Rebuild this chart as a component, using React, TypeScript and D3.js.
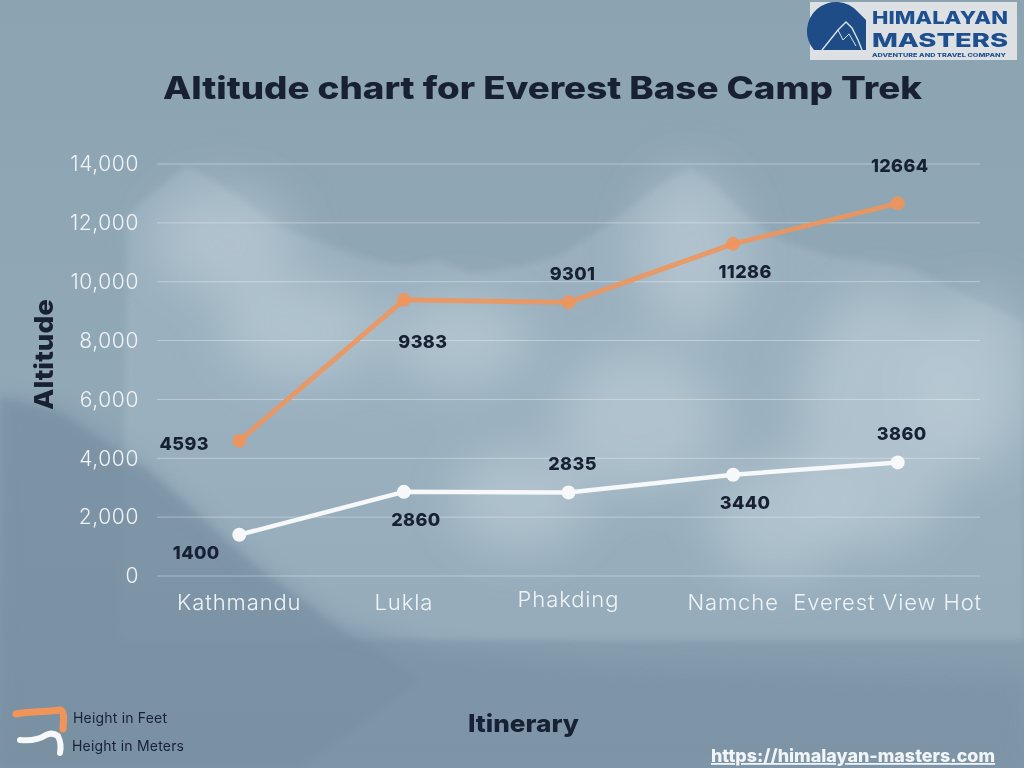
import React, { useEffect, useRef } from 'react';
import * as d3 from 'd3';

// Itinerary stops and altitudes
const stops = ['Kathmandu', 'Lukla', 'Phakding', 'Namche', 'Everest View Hotel'];
const heightFeet = [4593, 9383, 9301, 11286, 12664];
const heightMeters = [1400, 2860, 2835, 3440, 3860];
const yTicks = [0, 2000, 4000, 6000, 8000, 10000, 12000, 14000];

// where each value label sits relative to its point
const feetLabelSide = ['left', 'belowFar', 'above', 'below', 'aboveFar'];
const meterLabelSide = ['belowLeft', 'below', 'above', 'below', 'above'];

const W = 1024;
const H = 768;
const ORANGE = '#f0945a';
const WHITE = '#f6f8f9';
const INK = '#182034';
const FONT = 'Inter, "Open Sans", sans-serif';

const App: React.FC = () => {
  const svgRef = useRef<SVGSVGElement>(null);

  useEffect(() => {
    document.body.style.margin = '0';
    if (!svgRef.current) return;
    const svg = d3.select(svgRef.current);
    svg.selectAll('*').remove();

    const defs = svg.append('defs');
    const bg = defs.append('linearGradient').attr('id', 'bg').attr('x1', 0).attr('y1', 0).attr('x2', 0).attr('y2', 1);
    bg.append('stop').attr('offset', '0%').attr('stop-color', '#8ca3b2');
    bg.append('stop').attr('offset', '50%').attr('stop-color', '#91a8b7');
    bg.append('stop').attr('offset', '100%').attr('stop-color', '#8098a9');
    const blur = (id: string, s: number) =>
      defs.append('filter').attr('id', id).attr('x', '-20%').attr('y', '-20%').attr('width', '140%').attr('height', '140%')
        .append('feGaussianBlur').attr('stdDeviation', s);
    blur('blurSoft', 3);
    blur('blurMid', 10);
    blur('blurBig', 24);

    // background photo approximation
    svg.append('rect').attr('width', W).attr('height', H).attr('fill', 'url(#bg)');
    const scenery = svg.append('g');
    scenery.append('path')
      .attr('d', 'M120,640 L128,215 L150,196 L172,178 L186,166 L200,172 L222,186 L250,205 L282,228 L320,242 L360,258 L405,266 L440,261 L470,274 L520,266 L560,256 L600,230 L640,200 L668,180 L690,168 L712,182 L740,210 L775,238 L830,256 L870,262 L910,268 L960,292 L1024,322 L1024,640 Z')
      .attr('fill', '#a3b8c6').attr('opacity', 0.55).attr('filter', 'url(#blurSoft)');
    const snow = [
      [225, 240, 70, 55], [300, 330, 80, 50], [460, 340, 70, 45], [690, 250, 55, 80],
      [640, 420, 80, 70], [880, 420, 80, 130], [980, 380, 50, 90], [520, 500, 70, 50], [780, 520, 70, 60],
    ];
    scenery.append('g').attr('filter', 'url(#blurBig)').selectAll('ellipse').data(snow).join('ellipse')
      .attr('cx', d => d[0]).attr('cy', d => d[1]).attr('rx', d => d[2]).attr('ry', d => d[3])
      .attr('fill', '#dbe6ec').attr('opacity', 0.35);
    scenery.append('path')
      .attr('d', 'M0,395 L60,410 L150,470 L250,560 L340,625 L440,650 L600,665 L800,672 L1024,680 L1024,768 L0,768 Z')
      .attr('fill', '#7b93a5').attr('opacity', 0.7).attr('filter', 'url(#blurMid)');
    scenery.append('path')
      .attr('d', 'M0,398 L60,412 L150,472 L250,562 L330,622 L420,680 L300,768 L0,768 Z')
      .attr('fill', '#748d9f').attr('opacity', 0.45).attr('filter', 'url(#blurSoft)');

    // scales
    const x = d3.scaleBand<string>().domain(stops).range([157, 980]).padding(0);
    const cx = (s: string) => (x(s) as number) + x.bandwidth() / 2;
    const y = d3.scaleLinear().domain([0, 14000]).range([576, 164]);

    // grid
    svg.append('g').selectAll('line').data(yTicks).join('line')
      .attr('x1', 157).attr('x2', 980)
      .attr('y1', d => y(d)).attr('y2', d => y(d))
      .attr('stroke', '#ffffff').attr('stroke-opacity', 0.35).attr('stroke-width', 1);

    // y tick labels
    const fmt = d3.format(',');
    svg.append('g').selectAll('text').data(yTicks).join('text')
      .attr('x', 139).attr('y', d => y(d)).attr('dy', '0.35em')
      .attr('text-anchor', 'end').attr('font-family', FONT).attr('font-weight', 300)
      .attr('font-size', 21).attr('letter-spacing', 0.6).attr('fill', '#f0f4f7')
      .text(d => fmt(d));

    // x labels, last one cut off like the original
    svg.append('g').selectAll('text').data(stops).join('text')
      .attr('x', d => cx(d)).attr('y', (d, i) => (i === 2 ? 607 : 610))
      .attr('text-anchor', 'middle').attr('font-family', FONT).attr('font-weight', 300)
      .attr('font-size', 22).attr('letter-spacing', 0.9).attr('fill', '#f0f4f7')
      .text(d => d)
      .each(function (d) {
        const self = d3.select(this);
        const maxW = x.bandwidth() + 30;
        let t = d;
        let cut = false;
        while ((this as SVGTextElement).getComputedTextLength() > maxW && t.length > 0) {
          t = t.slice(0, -1);
          self.text(t);
          cut = true;
        }
        if (cut) self.attr('x', cx(d) - 10);
      });

    // series
    const drawSeries = (vals: number[], color: string, width: number, opacity: number) => {
      const pts = vals.map((v, i) => [cx(stops[i]), y(v)] as [number, number]);
      const g = svg.append('g');
      g.append('path').attr('d', d3.line()(pts) as string)
        .attr('fill', 'none').attr('stroke', color).attr('stroke-width', width)
        .attr('stroke-opacity', opacity).attr('stroke-linejoin', 'round').attr('stroke-linecap', 'round');
      g.selectAll('circle').data(pts).join('circle')
        .attr('cx', d => d[0]).attr('cy', d => d[1]).attr('r', 7)
        .attr('fill', color).attr('fill-opacity', opacity);
    };
    drawSeries(heightFeet, ORANGE, 5, 0.88);
    drawSeries(heightMeters, WHITE, 4.5, 1);

    const offset = (side: string) => {
      switch (side) {
        case 'left': return [-55, 3];
        case 'belowLeft': return [-43, 18];
        case 'below': return [12, 28];
        case 'belowFar': return [19, 42];
        case 'above': return [4, -29];
        case 'aboveFar': return [2, -38];
        default: return [0, 0];
      }
    };
    const drawLabels = (vals: number[], sides: string[]) => {
      svg.append('g').selectAll('text').data(vals).join('text')
        .attr('x', (d, i) => cx(stops[i]) + offset(sides[i])[0])
        .attr('y', (d, i) => y(d) + offset(sides[i])[1])
        .attr('dy', '0.35em').attr('text-anchor', 'middle')
        .attr('font-family', FONT).attr('font-weight', 800).attr('font-size', 18)
        .attr('letter-spacing', 0.4).attr('fill', INK)
        .text(d => String(d));
    };
    drawLabels(heightFeet, feetLabelSide);
    drawLabels(heightMeters, meterLabelSide);

    // title
    svg.append('text').attr('x', 163).attr('y', 99)
      .attr('textLength', 759).attr('lengthAdjust', 'spacingAndGlyphs')
      .attr('font-family', FONT).attr('font-weight', 800).attr('font-size', 31).attr('fill', INK)
      .text('Altitude chart for Everest Base Camp Trek');

    // axis titles
    svg.append('text').attr('transform', 'translate(53,355) rotate(-90)')
      .attr('x', -55).attr('textLength', 111).attr('lengthAdjust', 'spacingAndGlyphs')
      .attr('font-family', FONT).attr('font-weight', 800)
      .attr('font-size', 26).attr('fill', INK).text('Altitude');
    svg.append('text').attr('x', 468).attr('y', 732)
      .attr('textLength', 111).attr('lengthAdjust', 'spacingAndGlyphs')
      .attr('font-family', FONT).attr('font-weight', 800).attr('font-size', 24).attr('fill', INK)
      .text('Itinerary');

    // legend
    const legend = svg.append('g');
    legend.append('path').attr('d', 'M16,714 C30,711 48,712 60,710 C64,711 64,716 63,729')
      .attr('fill', 'none').attr('stroke', ORANGE).attr('stroke-width', 7).attr('stroke-linecap', 'round');
    legend.append('path').attr('d', 'M20,740 C30,741 40,739 46,735 C50,733 54,733 58,736 C61,742 61,748 60,753')
      .attr('fill', 'none').attr('stroke', WHITE).attr('stroke-width', 6).attr('stroke-linecap', 'round');
    legend.append('text').attr('x', 73).attr('y', 723).attr('textLength', 94).attr('font-family', FONT)
      .attr('font-size', 14).attr('fill', INK).text('Height in Feet');
    legend.append('text').attr('x', 72).attr('y', 751).attr('textLength', 112).attr('font-family', FONT)
      .attr('font-size', 14).attr('fill', INK).text('Height in Meters');

    // url
    svg.append('text').attr('x', 711).attr('y', 762)
      .attr('textLength', 284).attr('lengthAdjust', 'spacingAndGlyphs')
      .attr('font-family', FONT).attr('font-weight', 800).attr('font-size', 18)
      .attr('fill', '#f2f5f7').attr('text-decoration', 'underline')
      .text('https://himalayan-masters.com');

    // logo
    const logo = svg.append('g');
    logo.append('rect').attr('x', 810).attr('y', 2).attr('width', 207).attr('height', 58).attr('fill', '#dde1e4');
    logo.append('path').attr('d', 'M814,50 A26,26 0 0 1 858,12 L866,20 L866,50 Z').attr('fill', '#1e4c86');
    logo.append('path').attr('d', 'M822,50 L838,30 L846,22 L852,28 L858,40 L862,50')
      .attr('fill', 'none').attr('stroke', '#dde1e4').attr('stroke-width', 1.4);
    logo.append('path').attr('d', 'M838,30 L843,40 L849,34 L856,46')
      .attr('fill', 'none').attr('stroke', '#dde1e4').attr('stroke-width', 1);
    logo.append('text').attr('x', 872).attr('y', 24).attr('textLength', 136).attr('lengthAdjust', 'spacingAndGlyphs')
      .attr('font-family', FONT).attr('font-weight', 800).attr('font-size', 18).attr('fill', '#1e4f8f').text('HIMALAYAN');
    logo.append('text').attr('x', 872).attr('y', 47).attr('textLength', 136).attr('lengthAdjust', 'spacingAndGlyphs')
      .attr('font-family', FONT).attr('font-weight', 800).attr('font-size', 19).attr('fill', '#1e4f8f').text('MASTERS');
    logo.append('text').attr('x', 872).attr('y', 57).attr('textLength', 134).attr('lengthAdjust', 'spacingAndGlyphs')
      .attr('font-family', FONT).attr('font-weight', 800).attr('font-size', 5).attr('fill', '#1e4f8f')
      .text('ADVENTURE AND TRAVEL COMPANY');
  }, []);

  return <svg ref={svgRef} width={W} height={H} style={{ display: 'block' }} />;
};

export default App;
